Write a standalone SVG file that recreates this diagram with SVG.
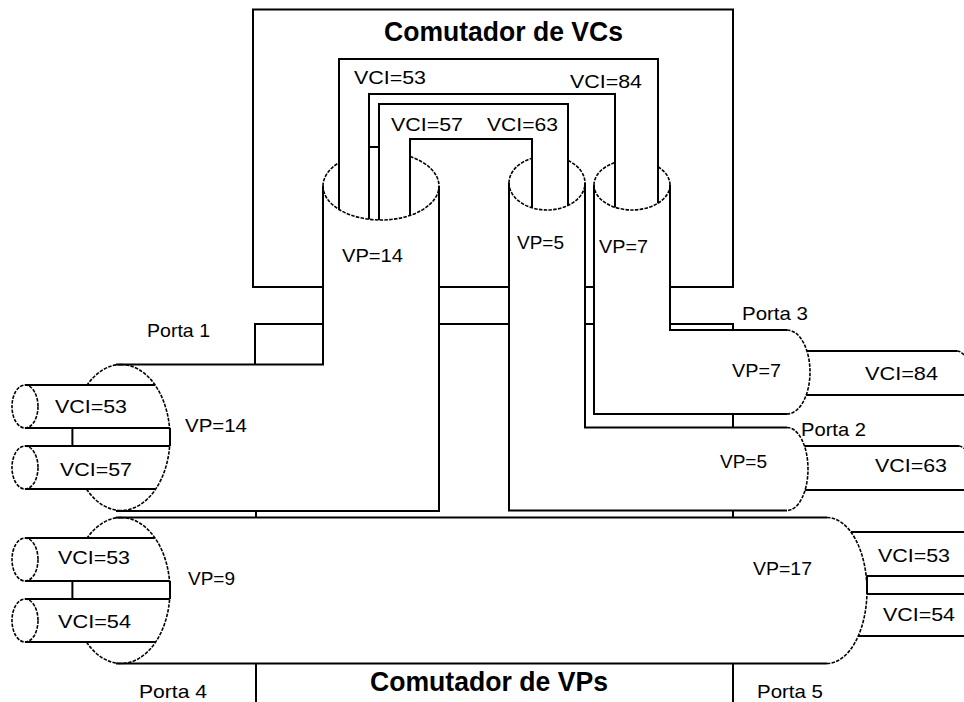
<svg xmlns="http://www.w3.org/2000/svg" width="964" height="702" viewBox="0 0 964 702">
<style>
.ln{fill:none;stroke:#000;stroke-width:2;stroke-linejoin:miter}
.ds{fill:none;stroke:#000;stroke-width:1.6;stroke-dasharray:3.5 1.3}
.lb{font-family:"Liberation Sans",Arial,sans-serif;font-size:19px;fill:#000}
.tt{font-family:"Liberation Sans",Arial,sans-serif;font-size:27px;font-weight:bold;fill:#000}
</style>
<rect width="964" height="702" fill="#fff"/>

<g id="vc-switch">
  <path class="ln" d="M323,287 H253 V9.5 H733 V287 H670 M439,287 H509 M585,287 H594"/>
  <text class="tt" x="384" y="41" textLength="239" lengthAdjust="spacingAndGlyphs">Comutador de VCs</text>
</g>

<g id="vp-switch">
  <path class="ln" d="M323,324 H255 V365 M439,324 H509 M585,324 H594 M670,324 H733 V330 M733,414 V427.5 M256,511 V518 M733,510.5 V518 M256,663.5 V702 M733,663.5 V702"/>
  <text class="tt" x="370" y="691" textLength="238" lengthAdjust="spacingAndGlyphs">Comutador de VPs</text>
  <text class="lb" x="147" y="337" textLength="63" lengthAdjust="spacingAndGlyphs">Porta 1</text>
  <text class="lb" x="801" y="436" textLength="65" lengthAdjust="spacingAndGlyphs">Porta 2</text>
  <text class="lb" x="742" y="320" textLength="66" lengthAdjust="spacingAndGlyphs">Porta 3</text>
  <text class="lb" x="139" y="698" textLength="68" lengthAdjust="spacingAndGlyphs">Porta 4</text>
  <text class="lb" x="757" y="698" textLength="66" lengthAdjust="spacingAndGlyphs">Porta 5</text>
</g>

<g id="vp14">
  <path class="ln" d="M323,186 V364.5 H116 M439,186 V511 H116"/>
  <path class="ds" d="M323,186 A58,34 0 0 0 439,186 M323,186 A58,34 0 0 1 339,162.6 M410,156.6 A58,34 0 0 1 439,186"/>
  <path class="ds" d="M121,364.5 A49,73 0 0 1 121,510.5 M121,364.5 A49,73 0 0 0 87.2,385 M86.5,489 A49,73 0 0 0 121,510.5"/>
  <path class="ln" d="M72.4,428 V446 M170,428 V446"/>
  <text class="lb" x="342" y="262" textLength="61" lengthAdjust="spacingAndGlyphs">VP=14</text>
  <text class="lb" x="185" y="432" textLength="62" lengthAdjust="spacingAndGlyphs">VP=14</text>
</g>

<g id="vp5">
  <path class="ln" d="M509,183 V510.5 H787 M585,183 V427.5 H787"/>
  <path class="ds" d="M509,183 A38,27 0 0 0 585,183 M509,183 A38,27 0 0 1 532,158.2 M568,160.5 A38,27 0 0 1 585,183"/>
  <path class="ds" d="M787,427.5 A21,41.5 0 0 1 787,510.5"/>
  <text class="lb" x="517" y="249" textLength="47" lengthAdjust="spacingAndGlyphs">VP=5</text>
  <text class="lb" x="720" y="468" textLength="47" lengthAdjust="spacingAndGlyphs">VP=5</text>
</g>

<g id="vp7">
  <path class="ln" d="M594,185 V414 H787 M670,185 V330 H787"/>
  <path class="ds" d="M594,185 A38,25 0 0 0 670,185 M594,185 A38,25 0 0 1 615,162.6 M658,166.8 A38,25 0 0 1 670,185"/>
  <path class="ds" d="M787,330 A23,42 0 0 1 787,414"/>
  <text class="lb" x="599" y="253" textLength="49" lengthAdjust="spacingAndGlyphs">VP=7</text>
  <text class="lb" x="732" y="377" textLength="49" lengthAdjust="spacingAndGlyphs">VP=7</text>
</g>

<g id="vp9-vp17">
  <path class="ln" d="M116,517.5 H827 M116,663.5 H827"/>
  <path class="ds" d="M121,517.5 A49,73 0 0 1 121,663.5 M121,517.5 A49,73 0 0 0 87.2,538 M86.5,642 A49,73 0 0 0 121,663.5"/>
  <path class="ln" d="M72.4,581 V599 M170,581 V599"/>
  <path class="ds" d="M827,517.5 A40,73 0 0 1 827,663.5"/>
  <path class="ln" d="M867,576 V594"/>
  <text class="lb" x="188" y="585" textLength="47" lengthAdjust="spacingAndGlyphs">VP=9</text>
  <text class="lb" x="753" y="575" textLength="59" lengthAdjust="spacingAndGlyphs">VP=17</text>
</g>

<g id="connectors">
  <g id="vc-switch-links">
    <path class="ln" d="M339,209.4 V59 H658 V203.2 M369,219.3 V94 H615 V207.4"/>
    <path class="ln" d="M379,220 V104 H568 V205.5 M410,215.4 V139 H532 V207.8"/>
    <path class="ln" d="M369,147 H379"/>
    <text class="lb" x="354" y="84" textLength="72" lengthAdjust="spacingAndGlyphs">VCI=53</text>
    <text class="lb" x="570" y="88" textLength="72" lengthAdjust="spacingAndGlyphs">VCI=84</text>
    <text class="lb" x="391" y="131" textLength="72" lengthAdjust="spacingAndGlyphs">VCI=57</text>
    <text class="lb" x="487" y="131" textLength="71" lengthAdjust="spacingAndGlyphs">VCI=63</text>
  </g>
  <g id="port1-vcs">
    <path class="ln" d="M25,385 H154.8 M25,428 H169.6 M25,446 H169.7 M25,489 H155.5"/>
    <ellipse class="ds" cx="25" cy="406.5" rx="13" ry="21.5"/>
    <ellipse class="ds" cx="25" cy="467.5" rx="13" ry="21.5"/>
    <text class="lb" x="55" y="413" textLength="72" lengthAdjust="spacingAndGlyphs">VCI=53</text>
    <text class="lb" x="60" y="476" textLength="72" lengthAdjust="spacingAndGlyphs">VCI=57</text>
  </g>
  <g id="port4-vcs">
    <path class="ln" d="M25,538 H154.8 M25,581 H169.6 M25,599 H169.7 M25,642 H155.5"/>
    <ellipse class="ds" cx="25" cy="559.5" rx="13" ry="21.5"/>
    <ellipse class="ds" cx="25" cy="620.5" rx="13" ry="21.5"/>
    <text class="lb" x="58" y="564" textLength="72" lengthAdjust="spacingAndGlyphs">VCI=53</text>
    <text class="lb" x="58" y="628" textLength="73" lengthAdjust="spacingAndGlyphs">VCI=54</text>
  </g>
  <g id="port3-vcs">
    <path class="ln" d="M806.9,351 H957 M806.2,395 H964"/>
    <path class="ds" d="M957,351 A12,22 0 0 1 964,355.1"/>
    <text class="lb" x="865" y="380" textLength="73" lengthAdjust="spacingAndGlyphs">VCI=84</text>
  </g>
  <g id="port2-vcs">
    <path class="ln" d="M804.5,446 H959 M805.1,490 H964"/>
    <path class="ds" d="M959,446 A12,22 0 0 1 964,448.5"/>
    <text class="lb" x="875" y="472" textLength="72" lengthAdjust="spacingAndGlyphs">VCI=63</text>
  </g>
  <g id="port5-vcs">
    <path class="ln" d="M850.9,532 H964 M866.2,576 H964 M867,594 H964 M858.3,636 H964"/>
    <text class="lb" x="878" y="562" textLength="72" lengthAdjust="spacingAndGlyphs">VCI=53</text>
    <text class="lb" x="883" y="621" textLength="72" lengthAdjust="spacingAndGlyphs">VCI=54</text>
  </g>
</g>
</svg>
